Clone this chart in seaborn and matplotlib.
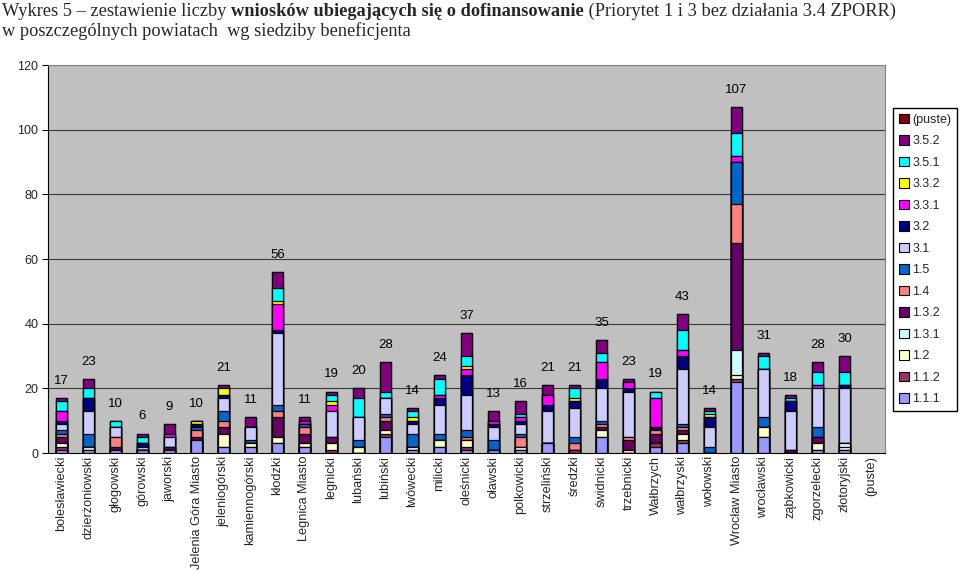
import matplotlib
matplotlib.use("Agg")
import matplotlib.pyplot as plt
import seaborn as sns
import pandas as pd
import numpy as np
from matplotlib.patches import Patch

categories = ["bolesławiecki", "dzierżoniowski", "głogowski", "górowski", "jaworski",
              "Jelenia Góra Miasto", "jeleniogórski", "kamiennogórski", "kłodzki",
              "Legnica Miasto", "legnicki", "lubański", "lubiński", "lwówecki", "milicki",
              "oleśnicki", "oławski", "polkowicki", "strzeliński", "średzki", "świdnicki",
              "trzebnicki", "Wałbrzych", "wałbrzyski", "wołowski", "Wrocław Miasto",
              "wrocławski", "ząbkowicki", "zgorzelecki", "złotoryjski", "(puste)"]

s_1_1_1 = [1, 1, 1, 1, 1, 4, 2, 2, 3, 2, 0, 0, 5, 1, 2, 1, 1, 1, 3, 0, 5, 0, 2, 3, 0, 22, 5, 0, 1, 1, 0]
s_1_1_2 = [1, 0, 0, 0, 0, 0, 0, 0, 0, 0, 1, 0, 1, 0, 0, 1, 0, 0, 0, 1, 0, 0, 1, 1, 0, 1, 0, 0, 0, 0, 0]
s_1_2 = [1, 1, 0, 0, 0, 0, 4, 1, 2, 1, 2, 2, 1, 1, 2, 2, 0, 1, 0, 0, 2, 1, 0, 2, 0, 1, 3, 0, 2, 1, 0]
s_1_3_1 = [0, 0, 0, 0, 0, 0, 0, 0, 0, 0, 0, 0, 0, 0, 0, 0, 0, 0, 0, 0, 0, 0, 0, 0, 0, 8, 0, 0, 0, 1, 0]
s_1_3_2 = [2, 0, 1, 0, 1, 1, 2, 0, 6, 3, 2, 0, 3, 0, 0, 0, 0, 0, 0, 0, 1, 3, 3, 1, 0, 33, 0, 1, 2, 0, 0]
s_1_4 = [1, 0, 3, 0, 0, 2, 2, 0, 2, 2, 0, 0, 1, 0, 0, 1, 0, 3, 0, 2, 1, 1, 1, 1, 0, 12, 0, 0, 0, 0, 0]
s_1_5 = [1, 4, 0, 0, 0, 1, 3, 1, 2, 1, 0, 2, 1, 4, 2, 2, 3, 1, 0, 2, 1, 0, 0, 1, 2, 13, 3, 0, 3, 0, 0]
s_3_1 = [2, 7, 3, 1, 3, 0, 4, 4, 22, 0, 8, 7, 5, 3, 9, 11, 4, 3, 10, 9, 10, 14, 0, 17, 6, 0, 15, 12, 12, 17, 0]
s_3_2 = [1, 4, 0, 1, 0, 1, 1, 0, 1, 0, 0, 0, 0, 1, 2, 6, 1, 1, 2, 2, 3, 1, 1, 4, 3, 0, 0, 3, 0, 1, 0]
s_3_3_1 = [3, 0, 0, 0, 1, 0, 0, 0, 8, 1, 2, 0, 0, 0, 1, 2, 1, 1, 3, 0, 5, 2, 9, 2, 0, 2, 0, 0, 1, 0, 0]
s_3_3_2 = [0, 0, 0, 0, 0, 1, 2, 0, 1, 0, 1, 0, 0, 1, 0, 1, 0, 0, 0, 1, 0, 0, 0, 0, 1, 0, 0, 0, 0, 0, 0]
s_3_5_1 = [3, 3, 2, 2, 0, 0, 0, 0, 4, 0, 2, 6, 2, 2, 5, 3, 0, 1, 0, 3, 3, 0, 2, 6, 1, 7, 4, 1, 4, 4, 0]
s_3_5_2 = [1, 3, 0, 1, 3, 0, 1, 3, 5, 1, 1, 3, 9, 1, 1, 7, 3, 4, 3, 1, 4, 1, 0, 5, 1, 8, 1, 1, 3, 5, 0]
s_puste = [0] * 31

series_names = ["1.1.1", "1.1.2", "1.2", "1.3.1", "1.3.2", "1.4", "1.5",
                "3.1", "3.2", "3.3.1", "3.3.2", "3.5.1", "3.5.2", "(puste)"]
series_values = [s_1_1_1, s_1_1_2, s_1_2, s_1_3_1, s_1_3_2, s_1_4, s_1_5,
                 s_3_1, s_3_2, s_3_3_1, s_3_3_2, s_3_5_1, s_3_5_2, s_puste]
series_colors = ["#9999FF", "#993366", "#FFFFCC", "#CCFFFF", "#660066", "#FF8080", "#0066CC",
                 "#CCCCFF", "#000080", "#FF00FF", "#FFFF00", "#00FFFF", "#800080", "#800000"]

yticks = [0, 20, 40, 60, 80, 100, 120]

df = pd.DataFrame({name: vals for name, vals in zip(series_names, series_values)}, index=categories)
cum = df.cumsum(axis=1).astype(float)
totals = df.sum(axis=1)
cum.loc[totals == 0, :] = np.nan

sns.set_style("white")
plt.rcParams["font.family"] = ["Liberation Sans", "DejaVu Sans"]

fig = plt.figure(figsize=(9.6, 5.71), dpi=100)
ax = fig.add_axes([48 / 960, 1 - 453 / 571, (885 - 48) / 960, (453 - 65) / 571])
ax.set_facecolor("#C0C0C0")

for y in yticks[1:]:
    ax.axhline(y, color="#3a3a3a", lw=0.8, zorder=0.5)

for name, color in reversed(list(zip(series_names, series_colors))):
    sns.barplot(x=categories, y=cum[name].values, order=categories, color=color,
                edgecolor="black", linewidth=0.9, width=0.42, errorbar=None,
                saturation=1, ax=ax, zorder=2)

for i, cat in enumerate(categories):
    t = totals[cat]
    if t > 0:
        ax.annotate(str(int(t)), xy=(i, t), xytext=(0, 8), textcoords="offset points",
                    ha="center", va="bottom", fontsize=9.5, color="black")

ax.set_ylim(0, 120)
ax.set_xlim(-0.5, len(categories) - 0.5)
ax.set_yticks(yticks)
ax.set_yticklabels([str(v) for v in yticks], fontsize=9)
ax.set_xticks(range(len(categories)))
ax.set_xticklabels(categories, rotation=90, fontsize=9.2)
ax.set_xticks(np.arange(-0.5, len(categories), 1), minor=True)
ax.tick_params(axis="x", which="major", length=0, pad=2)
ax.tick_params(axis="x", which="minor", length=4, color="black", direction="out")
ax.tick_params(axis="y", length=4, color="black", direction="out", pad=3, left=True)
ax.set_xlabel("")
ax.set_ylabel("")
for side in ["top", "right"]:
    ax.spines[side].set_color("#808080")
    ax.spines[side].set_linewidth(0.8)
for side in ["left", "bottom"]:
    ax.spines[side].set_color("black")
    ax.spines[side].set_linewidth(0.8)

handles = [Patch(facecolor=c, edgecolor="black", linewidth=0.8, label=n)
           for n, c in zip(series_names, series_colors)][::-1]
fig.legend(handles=handles, loc="upper left", bbox_to_anchor=(893 / 960, 1 - 108 / 571),
           frameon=True, fancybox=False, edgecolor="black", framealpha=1,
           fontsize=9, handlelength=0.8, handleheight=0.8, handletextpad=0.3,
           labelspacing=0.75, borderpad=0.45, borderaxespad=0)

# Title with mixed weight
tfont = ["Liberation Serif", "DejaVu Serif"]
tsize = 13.2
t1 = fig.text(0.002, 1 - 3 / 571, "Wykres 5 – zestawienie liczby ", ha="left", va="top",
              fontsize=tsize, family=tfont)
t2 = fig.text(0, 0, "wniosków ubiegających się o dofinansowanie", ha="left", va="bottom",
              fontsize=tsize, family=tfont, fontweight="bold")
t3 = fig.text(0, 0, " (Priorytet 1 i 3 bez działania 3.4 ZPORR)", ha="left", va="bottom",
              fontsize=tsize, family=tfont)
fig.canvas.draw()
r = fig.canvas.get_renderer()
inv = fig.transFigure.inverted()
b1 = t1.get_window_extent(r)
x0, y0 = inv.transform((b1.x1, b1.y0))
t2.set_position((x0, y0))
b2 = t2.get_window_extent(r)
x1, _ = inv.transform((b2.x1, b2.y0))
t3.set_position((x1, y0))
fig.text(0.002, 1 - 22 / 571, "w poszczególnych powiatach  wg siedziby beneficjenta",
         ha="left", va="top", fontsize=tsize, family=tfont)

fig.savefig("out.png", dpi=100, facecolor="white")
